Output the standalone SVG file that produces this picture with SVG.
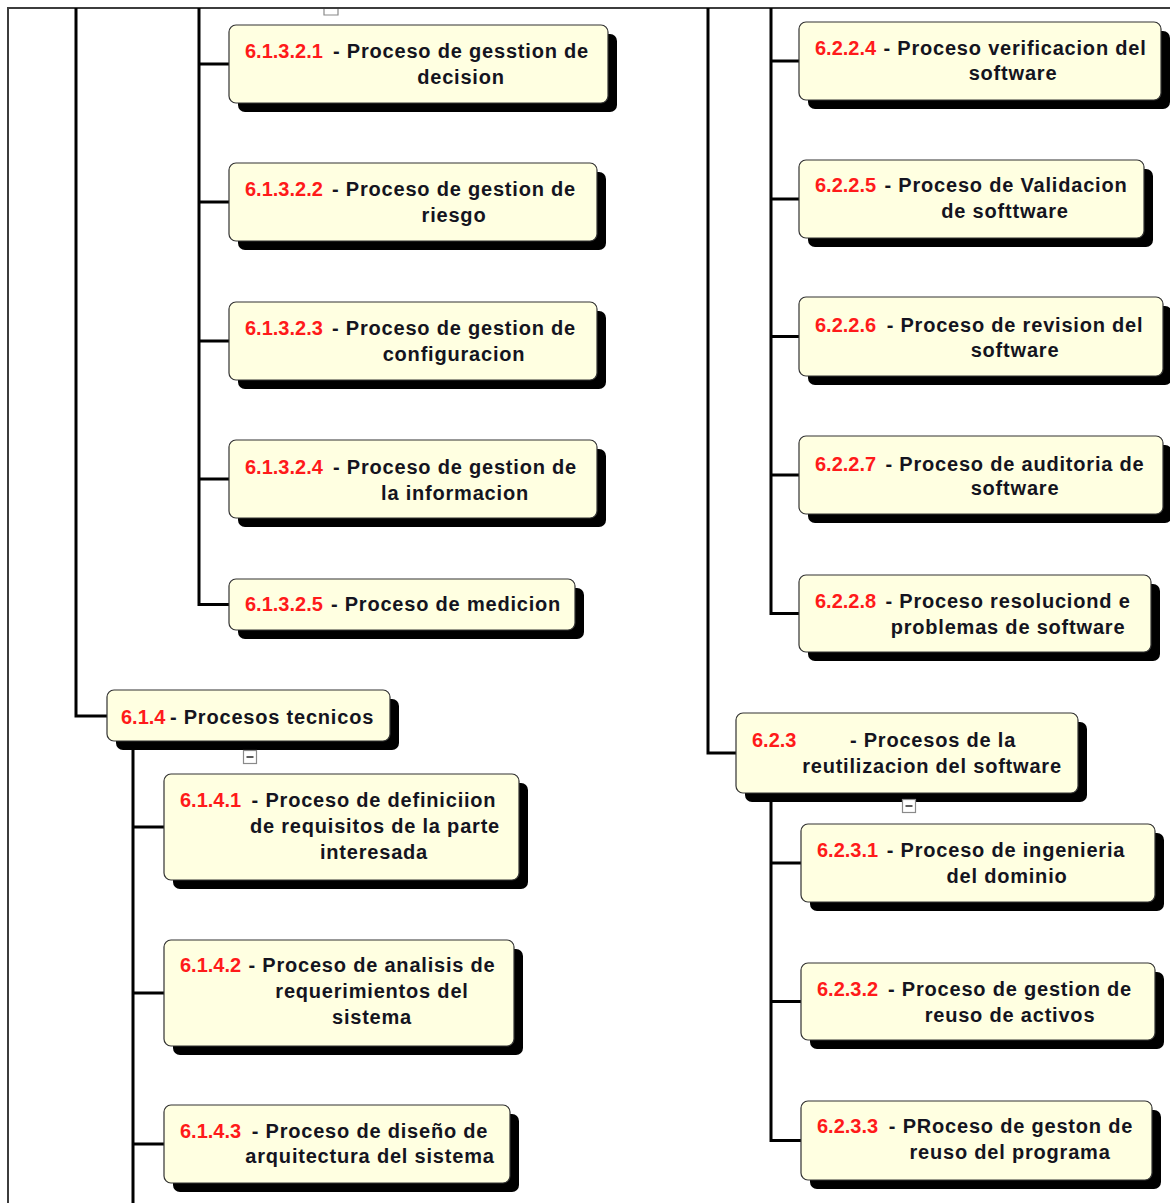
<svg xmlns="http://www.w3.org/2000/svg" width="1170" height="1203" viewBox="0 0 1170 1203">
  <style>
    .frame { stroke: #3c3c3c; stroke-width: 2; fill: none; }
    .wire { stroke: #000; stroke-width: 3; fill: none; }
    .shadow { fill: #000; }
    .box { fill: #FFFFE1; stroke: #333; stroke-width: 1.2; }
    .num { font-family: "Liberation Sans", Arial, sans-serif; font-weight: bold; font-size: 20px; fill: #FF1A1A; }
    .lbl { font-family: "Liberation Sans", Arial, sans-serif; font-weight: bold; font-size: 20px; fill: #141420; letter-spacing: 0.8px; text-anchor: middle; }
    .toggle { fill: #fff; stroke: #8a8a8a; stroke-width: 1.2; }
    .minus { stroke: #333; stroke-width: 1.6; }
  </style>
  <defs>
    <symbol id="collapse" overflow="visible">
      <rect class="toggle" x="0.5" y="0.5" width="13" height="13"/>
      <line class="minus" x1="3.5" y1="7" x2="10.5" y2="7"/>
    </symbol>
  </defs>

  <rect width="1170" height="1203" fill="#fff"/>

  <!-- outer frame -->
  <path class="toggle" d="M324,8 V15 H338 V8"/>
  <path class="frame" d="M8,1203 V8 H1170"/>

  <!-- connectors -->
  <g id="connectors">
    <path class="wire" d="M76,8 V716 H107"/>
    <path class="wire" d="M199,8 V604.5 H229 M199,64 H229 M199,202 H229 M199,341 H229 M199,479 H229"/>
    <path class="wire" d="M708,8 V753 H736"/>
    <path class="wire" d="M771,8 V613.5 H799 M771,61 H799 M771,199 H799 M771,336.5 H799 M771,475 H799"/>
    <path class="wire" d="M133,741 V1203 M133,827 H164 M133,993 H164 M133,1144 H164"/>
    <path class="wire" d="M771,793 V1140.5 H801 M771,863 H801 M771,1001.5 H801"/>
  </g>

  <!-- 6.1.3.2.x -->
  <g id="n61321">
    <rect class="shadow" x="238" y="34" width="379" height="78" rx="7"/>
    <rect class="box" x="229" y="25" width="379" height="78" rx="7"/>
    <text class="num" x="245" y="58">6.1.3.2.1</text>
    <text class="lbl" x="461" y="58">- Proceso de gesstion de</text>
    <text class="lbl" x="461" y="84">decision</text>
  </g>
  <g id="n61322">
    <rect class="shadow" x="238" y="172" width="368" height="78" rx="7"/>
    <rect class="box" x="229" y="163" width="368" height="78" rx="7"/>
    <text class="num" x="245" y="196">6.1.3.2.2</text>
    <text class="lbl" x="454" y="196">- Proceso de gestion de</text>
    <text class="lbl" x="454" y="222">riesgo</text>
  </g>
  <g id="n61323">
    <rect class="shadow" x="238" y="311" width="368" height="78" rx="7"/>
    <rect class="box" x="229" y="302" width="368" height="78" rx="7"/>
    <text class="num" x="245" y="335">6.1.3.2.3</text>
    <text class="lbl" x="454" y="335">- Proceso de gestion de</text>
    <text class="lbl" x="454" y="361">configuracion</text>
  </g>
  <g id="n61324">
    <rect class="shadow" x="238" y="449" width="368" height="78" rx="7"/>
    <rect class="box" x="229" y="440" width="368" height="78" rx="7"/>
    <text class="num" x="245" y="474">6.1.3.2.4</text>
    <text class="lbl" x="455" y="474">- Proceso de gestion de</text>
    <text class="lbl" x="455" y="500">la informacion</text>
  </g>
  <g id="n61325">
    <rect class="shadow" x="238" y="588" width="346" height="51" rx="7"/>
    <rect class="box" x="229" y="579" width="346" height="51" rx="7"/>
    <text class="num" x="245" y="611">6.1.3.2.5</text>
    <text class="lbl" x="446" y="611">- Proceso de medicion</text>
  </g>

  <!-- 6.1.4 and children -->
  <g id="n614">
    <rect class="shadow" x="116" y="699" width="283" height="51" rx="7"/>
    <rect class="box" x="107" y="690" width="283" height="51" rx="7"/>
    <text class="num" x="121" y="724">6.1.4</text>
    <text class="lbl" x="272" y="724">- Procesos tecnicos</text>
    <use href="#collapse" x="243" y="750"/>
  </g>
  <g id="n6141">
    <rect class="shadow" x="173" y="783" width="355" height="106" rx="7"/>
    <rect class="box" x="164" y="774" width="355" height="106" rx="7"/>
    <text class="num" x="180" y="807">6.1.4.1</text>
    <text class="lbl" x="374" y="807">- Proceso de definiciion</text>
    <text class="lbl" x="375" y="833">de requisitos de la parte</text>
    <text class="lbl" x="374" y="859">interesada</text>
  </g>
  <g id="n6142">
    <rect class="shadow" x="173" y="949" width="350" height="106" rx="7"/>
    <rect class="box" x="164" y="940" width="350" height="106" rx="7"/>
    <text class="num" x="180" y="972">6.1.4.2</text>
    <text class="lbl" x="372" y="972">- Proceso de analisis de</text>
    <text class="lbl" x="372" y="998">requerimientos del</text>
    <text class="lbl" x="372" y="1024">sistema</text>
  </g>
  <g id="n6143">
    <rect class="shadow" x="173" y="1114" width="346" height="78" rx="7"/>
    <rect class="box" x="164" y="1105" width="346" height="78" rx="7"/>
    <text class="num" x="180" y="1138">6.1.4.3</text>
    <text class="lbl" x="370" y="1138">- Proceso de diseño de</text>
    <text class="lbl" x="370" y="1163">arquitectura del sistema</text>
  </g>

  <!-- 6.2.2.x -->
  <g id="n6224">
    <rect class="shadow" x="808" y="31" width="362" height="78" rx="7"/>
    <rect class="box" x="799" y="22" width="362" height="78" rx="7"/>
    <text class="num" x="815" y="55">6.2.2.4</text>
    <text class="lbl" x="1015" y="55">- Proceso verificacion del</text>
    <text class="lbl" x="1013" y="80">software</text>
  </g>
  <g id="n6225">
    <rect class="shadow" x="808" y="169" width="345" height="78" rx="7"/>
    <rect class="box" x="799" y="160" width="345" height="78" rx="7"/>
    <text class="num" x="815" y="192">6.2.2.5</text>
    <text class="lbl" x="1006" y="192">- Proceso de Validacion</text>
    <text class="lbl" x="1005" y="218">de softtware</text>
  </g>
  <g id="n6226">
    <rect class="shadow" x="808" y="306" width="364" height="79" rx="7"/>
    <rect class="box" x="799" y="297" width="364" height="79" rx="7"/>
    <text class="num" x="815" y="332">6.2.2.6</text>
    <text class="lbl" x="1015" y="332">- Proceso de revision del</text>
    <text class="lbl" x="1015" y="357">software</text>
  </g>
  <g id="n6227">
    <rect class="shadow" x="808" y="445" width="364" height="78" rx="7"/>
    <rect class="box" x="799" y="436" width="364" height="78" rx="7"/>
    <text class="num" x="815" y="471">6.2.2.7</text>
    <text class="lbl" x="1015" y="471">- Proceso de auditoria de</text>
    <text class="lbl" x="1015" y="495">software</text>
  </g>
  <g id="n6228">
    <rect class="shadow" x="808" y="584" width="352" height="77" rx="7"/>
    <rect class="box" x="799" y="575" width="352" height="77" rx="7"/>
    <text class="num" x="815" y="608">6.2.2.8</text>
    <text class="lbl" x="1008" y="608">- Proceso resoluciond e</text>
    <text class="lbl" x="1008" y="634">problemas de software</text>
  </g>

  <!-- 6.2.3 and children -->
  <g id="n623">
    <rect class="shadow" x="745" y="722" width="342" height="80" rx="7"/>
    <rect class="box" x="736" y="713" width="342" height="80" rx="7"/>
    <text class="num" x="752" y="747">6.2.3</text>
    <text class="lbl" x="933" y="747">- Procesos de la</text>
    <text class="lbl" x="932" y="773">reutilizacion del software</text>
    <use href="#collapse" x="902" y="799"/>
  </g>
  <g id="n6231">
    <rect class="shadow" x="810" y="833" width="354" height="78" rx="7"/>
    <rect class="box" x="801" y="824" width="354" height="78" rx="7"/>
    <text class="num" x="817" y="857">6.2.3.1</text>
    <text class="lbl" x="1006" y="857">- Proceso de ingenieria</text>
    <text class="lbl" x="1007" y="883">del dominio</text>
  </g>
  <g id="n6232">
    <rect class="shadow" x="810" y="972" width="354" height="77" rx="7"/>
    <rect class="box" x="801" y="963" width="354" height="77" rx="7"/>
    <text class="num" x="817" y="996">6.2.3.2</text>
    <text class="lbl" x="1010" y="996">- Proceso de gestion de</text>
    <text class="lbl" x="1010" y="1022">reuso de activos</text>
  </g>
  <g id="n6233">
    <rect class="shadow" x="810" y="1110" width="351" height="79" rx="7"/>
    <rect class="box" x="801" y="1101" width="351" height="79" rx="7"/>
    <text class="num" x="817" y="1133">6.2.3.3</text>
    <text class="lbl" x="1011" y="1133">- PRoceso de geston de</text>
    <text class="lbl" x="1010" y="1159">reuso del programa</text>
  </g>
</svg>
